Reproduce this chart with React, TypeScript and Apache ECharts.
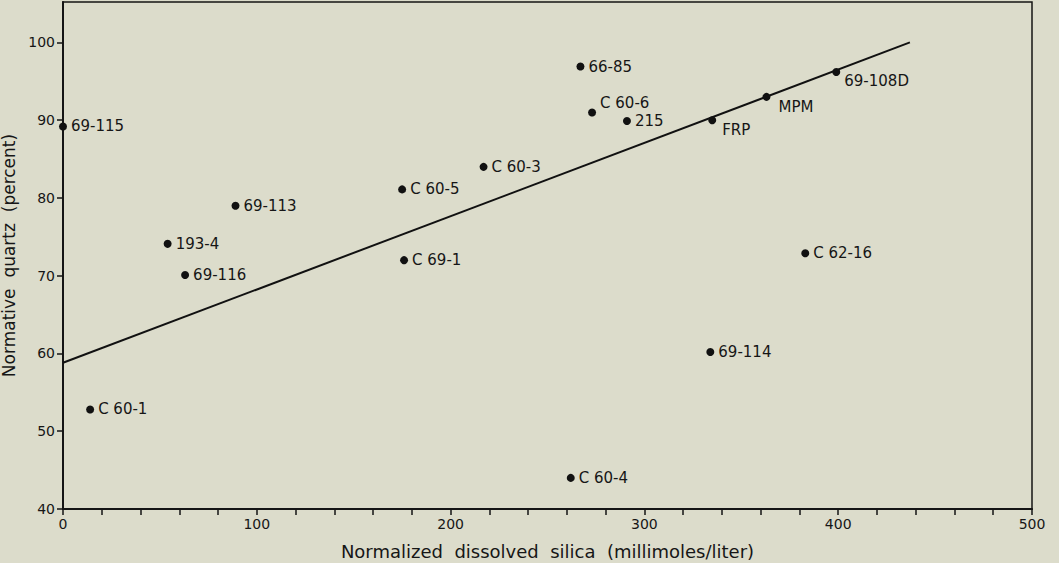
import React, { useEffect, useRef } from "react";
import * as echarts from "echarts";

const sampleNames = ["69-115", "C 60-1", "193-4", "69-116", "69-113", "C 60-5", "C 69-1", "C 60-3", "C 60-4", "66-85", "C 60-6", "215", "FRP", "69-114", "MPM", "C 62-16", "69-108D"];
const silicaValues = [0, 14, 54, 63, 89, 175, 176, 217, 262, 267, 273, 291, 335, 334, 363, 383, 399];
const quartzValues = [89.2, 52.8, 74.1, 70.1, 79.0, 81.1, 72.0, 84.0, 44.0, 96.9, 91.0, 89.9, 90.0, 60.2, 93.0, 72.9, 96.2];
const fitLineX = [0, 437];
const fitLineY = [58.8, 100];
const xTickValues = [0, 20, 40, 60, 80, 100, 120, 140, 160, 180, 200, 220, 240, 260, 280, 300, 320, 340, 360, 380, 400, 420, 440, 460, 480, 500];
const xLabelValues = [0, 100, 200, 300, 400, 500];
const yTickValues = [40, 50, 60, 70, 80, 90, 100];

const labelOffsets: Record<string, number[]> = {
  "C 60-6": [0, -9],
  "FRP": [2, 10],
  "MPM": [4, 10],
  "69-108D": [0, 9],
};

const FONT = "DejaVu Sans";

export default function App() {
  const ref = useRef<HTMLDivElement>(null);
  useEffect(() => {
    if (!ref.current) return;
    const chart = echarts.init(ref.current, null, { renderer: "svg" });
    const points = sampleNames.map((name, i) => {
      const off = labelOffsets[name];
      return {
        name,
        value: [silicaValues[i], quartzValues[i]],
        label: off ? { offset: off } : undefined,
      };
    });
    chart.setOption({
      animation: false,
      backgroundColor: "#dcdccb",
      grid: {
        left: 63,
        top: 2,
        right: 27,
        bottom: 54,
        outerBoundsMode: "none",
        containLabel: false,
        show: true,
        borderColor: "#151515",
        borderWidth: 1.5,
        backgroundColor: "transparent",
      },
      xAxis: {
        type: "value",
        min: 0,
        max: 500,
        interval: 20,
        name: "Normalized  dissolved  silica  (millimoles/liter)",
        nameLocation: "middle",
        nameGap: 33,
        nameTextStyle: { fontFamily: FONT, fontSize: 18, color: "#161616" },
        axisLine: { show: true, lineStyle: { color: "#151515", width: 2 } },
        axisTick: { show: true, length: 6, lineStyle: { color: "#151515", width: 1.5 }, customValues: xTickValues },
        axisLabel: { fontFamily: FONT, fontSize: 14, color: "#161616", margin: 8, customValues: xLabelValues },
        splitLine: { show: false },
      },
      yAxis: {
        type: "value",
        min: 40,
        max: 105.2,
        interval: 10,
        name: "Normative  quartz  (percent)",
        nameLocation: "middle",
        nameGap: 35,
        nameRotate: 90,
        nameTextStyle: { fontFamily: FONT, fontSize: 17, color: "#161616" },
        axisLine: { show: true, lineStyle: { color: "#151515", width: 2 } },
        axisTick: { show: true, length: 6, lineStyle: { color: "#151515", width: 1.5 }, customValues: yTickValues },
        axisLabel: { fontFamily: FONT, fontSize: 14, color: "#161616", margin: 8, customValues: yTickValues },
        splitLine: { show: false },
      },
      series: [
        {
          type: "line",
          data: fitLineX.map((x, i) => [x, fitLineY[i]]),
          symbol: "none",
          lineStyle: { color: "#111", width: 2 },
          silent: true,
          z: 1,
        },
        {
          type: "scatter",
          data: points,
          symbolSize: 8,
          itemStyle: { color: "#111", opacity: 1 },
          label: {
            show: true,
            position: "right",
            distance: 4,
            formatter: (p: any) => p.name,
            fontFamily: FONT,
            fontSize: 15,
            color: "#161616",
          },
          z: 3,
        },
      ],
    });
    return () => chart.dispose();
  }, []);
  return (
    <div style={{ position: "absolute", left: 0, top: 0, width: 1059, height: 563 }}>
      <div ref={ref} style={{ width: 1059, height: 563 }} />
    </div>
  );
}
